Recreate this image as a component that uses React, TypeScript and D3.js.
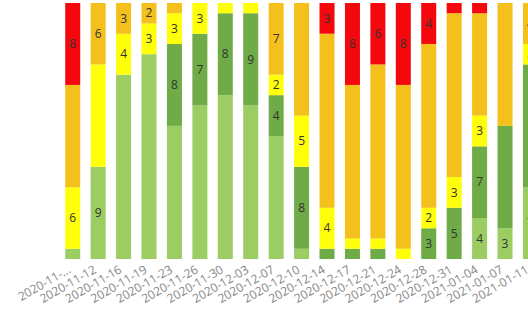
import React from "react";
import * as d3 from "d3";

const dates = [
  "2020-11-...", "2020-11-12", "2020-11-16", "2020-11-19", "2020-11-23",
  "2020-11-26", "2020-11-30", "2020-12-03", "2020-12-07", "2020-12-10",
  "2020-12-14", "2020-12-17", "2020-12-21", "2020-12-24", "2020-12-28",
  "2020-12-31", "2021-01-04", "2021-01-07", "2021-01-11",
];
const lightGreen = [1, 9, 18, 20, 13, 15, 16, 15, 12, 1, 0, 0, 0, 0, 0, 0, 4, 3, 7];
const darkGreen = [0, 0, 0, 0, 8, 7, 8, 9, 4, 8, 1, 1, 1, 0, 3, 5, 7, 10, 12];
const yellow = [6, 10, 4, 3, 3, 3, 1, 1, 2, 5, 4, 1, 1, 1, 2, 3, 3, 0, 2];
const orange = [10, 6, 3, 2, 1, 0, 0, 0, 7, 11, 17, 15, 17, 16, 16, 16, 10, 12, 4];
const red = [8, 0, 0, 0, 0, 0, 0, 0, 0, 0, 3, 8, 6, 8, 4, 1, 1, 0, 0];

const seriesKeys = ["lightGreen", "darkGreen", "yellow", "orange", "red"];
const seriesValues: Record<string, number[]> = { lightGreen, darkGreen, yellow, orange, red };
const colors: Record<string, string> = {
  lightGreen: "#9bcd62",
  darkGreen: "#6fab47",
  yellow: "#ffff0a",
  orange: "#f4c11c",
  red: "#f4070d",
};

const W = 528;
const H = 313;

export default function App() {
  const rows = dates.map((d, i) => {
    const r: any = { date: d };
    seriesKeys.forEach((k) => (r[k] = seriesValues[k][i]));
    return r;
  });
  const stacked = d3.stack<any>().keys(seriesKeys)(rows);
  const x = d3
    .scaleBand<string>()
    .domain(dates)
    .range([60, 60 + dates.length * 25.43])
    .paddingInner(0.41)
    .paddingOuter(0.205);
  const y = d3.scaleLinear().domain([0, 25]).range([259, 3]);
  const bw = x.bandwidth();

  return (
    <svg
      width={W}
      height={H}
      style={{ position: "absolute", left: 0, top: 0, background: "#fff" }}
      fontFamily="'Open Sans', sans-serif"
    >
      {stacked.map((s) => (
        <g key={s.key} fill={colors[s.key]}>
          {s.map((d, i) => {
            const v = d[1] - d[0];
            if (v <= 0) return null;
            const x0 = x(dates[i])!;
            return (
              <rect
                key={i}
                x={x0}
                y={y(d[1])}
                width={bw}
                height={y(d[0]) - y(d[1])}
              />
            );
          })}
        </g>
      ))}
      {stacked.map((s) => (
        <g key={s.key + "-lbl"} fill="#333" fontSize={12} textAnchor="middle">
          {s.map((d, i) => {
            const v = d[1] - d[0];
            if (v < 2 || v > 9) return null;
            const cx = x(dates[i])! + bw / 2;
            const cy = (y(d[0]) + y(d[1])) / 2;
            return (
              <text key={i} x={cx} y={cy} dy="0.35em">
                {v}
              </text>
            );
          })}
        </g>
      ))}
      <g fill="#858585" fontSize={12} textAnchor="end">
        {dates.map((d) => {
          const cx = x(d)! + bw / 2;
          return (
            <text key={d} transform={`translate(${cx - 1},${272}) rotate(-30)`}>
              {d}
            </text>
          );
        })}
      </g>
    </svg>
  );
}
